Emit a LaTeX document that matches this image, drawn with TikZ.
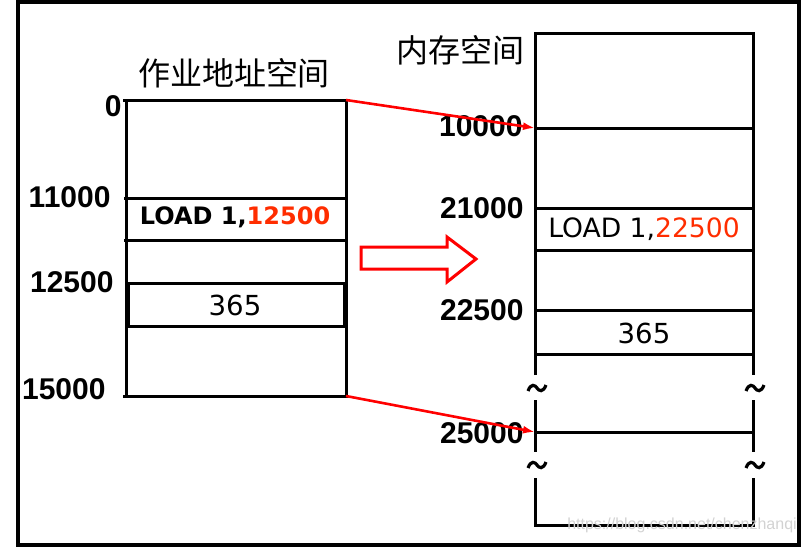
\documentclass[tikz,border=0pt]{standalone}
\usepackage{fontspec}
\setmainfont{Liberation Sans}
\newfontfamily\cjkfont{Noto Sans CJK SC}
\newfontfamily\cellfont{DejaVu Sans}
\usetikzlibrary{arrows.meta}
\definecolor{addrred}{RGB}{255,45,0}

\begin{document}
\begin{tikzpicture}
[x=0.5pt, y=-0.5pt, line width=1.5pt,
every node/.style={inner sep=0pt},
addr/.style={anchor=east, font=\fontsize{15}{15}\selectfont\bfseries},
title/.style={font=\cjkfont\fontsize{16}{16}\selectfont},
cell/.style={font=\cellfont\fontsize{13.3}{13.3}\selectfont},
boldcell/.style={font=\cellfont\fontsize{12}{12}\selectfont\bfseries},
maps/.style={red, line width=1.3pt, -{Latex[length=6pt,width=4pt]}}
]

\useasboundingbox (0,0) rectangle (804,547);
\draw[line width=2pt] (17.5,2) rectangle (798.5,544.5);

% job address space
\draw (123,100) -- (346,100) -- (346,396) -- (123,396)
(126,100) -- (126,396)
(124,198) -- (346,198)
(124,240) -- (346,240);
\draw (128,283) rectangle (344,326);
\path
(346,100) coordinate (jtop)
(346,396) coordinate (jend)
;

\node[title] (jtitle) at (234,73) {作业地址空间};
\node[addr] (j0) at (123,106) {0};
\node[addr] (j11000) at (112,197) {11000};
\node[addr] (j12500) at (115,282) {12500};
\node[addr] (j15000) at (107,389) {15000};
\node[boldcell] (jload) at (235,217) {LOAD 1,\textcolor{addrred}{12500}};
\node[cell, font=\cellfont\fontsize{13.8}{13.8}\selectfont] (jdata) at (235,305) {365};

% memory space
\draw (535,375) |- (753,33) -- (753,375)
(535,400) -- (535,452) (753,400) -- (753,452)
(535,478) |- (753,525) -- (753,478);
\foreach \y in {128,208,250,310,354,432}
\draw (535,\y) -- (753,\y);
\path
(535,128) coordinate (m10000)
(535,432) coordinate (m25000)
;

% breaks in the memory column
\foreach \x/\y in {537/388,755/388,537/465,755/465}
\draw[line width=1.6pt] (\x-9,\y+3) .. controls (\x-6,\y-5) and (\x-2,\y-3) .. (\x,\y)
.. controls (\x+2,\y+3) and (\x+6,\y+5) .. (\x+9,\y-3);

\node[title] (mtitle) at (460,50) {内存空间};
\node[addr] (mlab10000) at (524,126) {10000};
\node[addr] (mlab21000) at (525,208) {21000};
\node[addr] (mlab22500) at (525,310) {22500};
\node[addr] (mlab25000) at (525,433) {25000};
\node[cell] (mload) at (644,229) {LOAD 1,\textcolor{addrred}{22500}};
\node[cell, font=\cellfont\fontsize{13.8}{13.8}\selectfont] (mdata) at (644,333) {365};

% relocation
\draw[maps] (jtop) -- (m10000);
\draw[maps] (jend) -- (m25000);
\draw[red] (361,247) -- ++(86,0) -- ++(0,-10) -- (476,259)
-- (447,282) -- ++(0,-13) -- (361,269) -- cycle;

\node[gray!35, font=\fontsize{8}{8}\selectfont] (mark) at (682,525) {https://blog.csdn.net/chenzhanqi};

\end{tikzpicture}
\end{document}
